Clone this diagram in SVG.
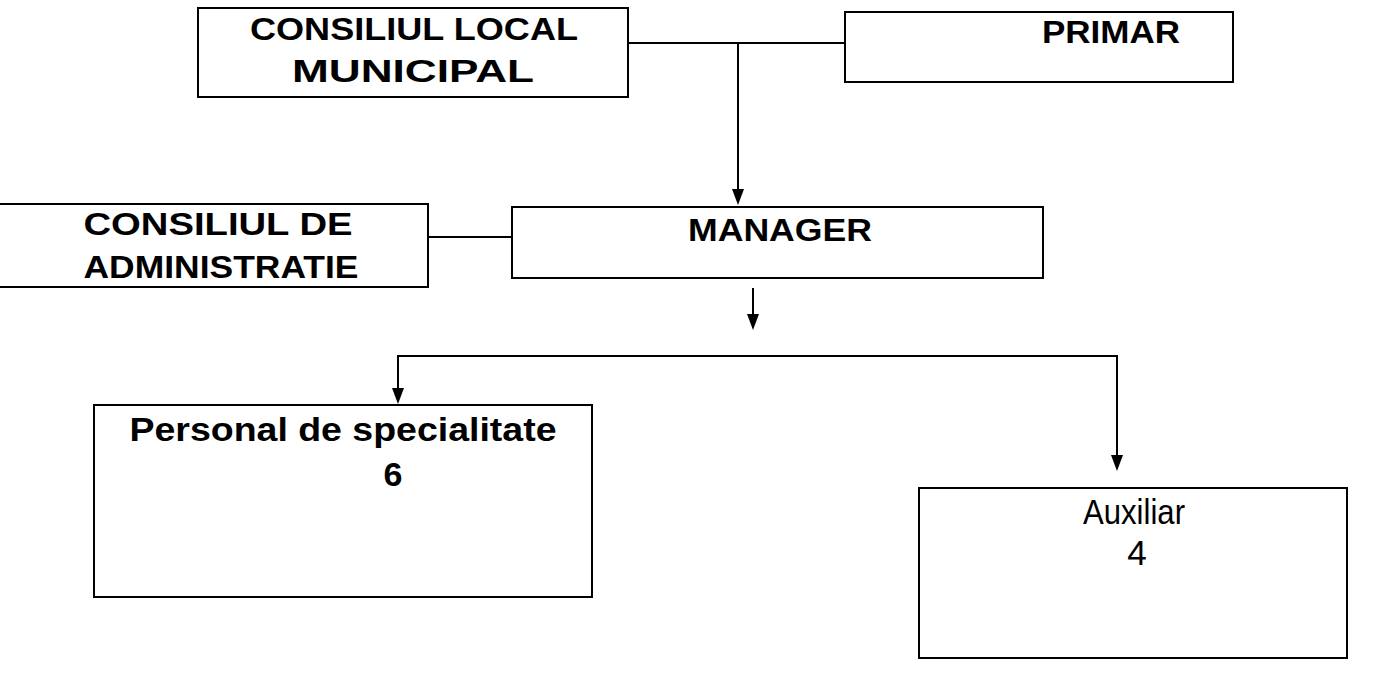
<svg xmlns="http://www.w3.org/2000/svg" width="1378" height="679" viewBox="0 0 1378 679">
<defs>
<style>
.box{fill:#fff;stroke:#000;stroke-width:2}
.ln{fill:none;stroke:#000;stroke-width:2}
.b{font-family:"Liberation Sans",Arial,sans-serif;font-weight:bold;font-size:32px;fill:#000;text-anchor:middle}
.p{font-family:"Liberation Sans",Arial,sans-serif;font-weight:bold;font-size:34px;fill:#000;text-anchor:middle}
.r{font-family:"Liberation Sans",Arial,sans-serif;font-size:35px;fill:#000;text-anchor:middle}
</style>
<marker id="ah" viewBox="0 0 12 16" refX="6" refY="16" markerWidth="12" markerHeight="16" markerUnits="userSpaceOnUse" orient="auto">
<path d="M0,0 L12,0 L6,16 Z" fill="#000"/>
</marker>
</defs>
<rect width="1378" height="679" fill="#fff"/>
<g id="connectors">
<line class="ln" x1="628" y1="43" x2="845" y2="43"/>
<line class="ln" x1="738" y1="43" x2="738" y2="190"/>
<path d="M732,189 L744,189 L738,205 Z" fill="#000"/>
<line class="ln" x1="428" y1="237" x2="513" y2="237"/>
<line class="ln" x1="753" y1="288" x2="753" y2="316"/>
<path d="M747,314 L759,314 L753,330 Z" fill="#000"/>
<path class="ln" d="M398,390 V356 H1117 V456"/>
<path d="M392,388 L404,388 L398,404 Z" fill="#000"/>
<path d="M1111,455 L1123,455 L1117,471 Z" fill="#000"/>
</g>
<g id="consiliul-local">
<rect class="box" x="198" y="8" width="430" height="89"/>
<text class="b" x="414" y="40" textLength="328" lengthAdjust="spacingAndGlyphs">CONSILIUL LOCAL</text>
<text class="b" x="413" y="82" textLength="242" lengthAdjust="spacingAndGlyphs">MUNICIPAL</text>
</g>
<g id="primar">
<rect class="box" x="845" y="12" width="388" height="70"/>
<text class="b" x="1111" y="43" textLength="138" lengthAdjust="spacingAndGlyphs">PRIMAR</text>
</g>
<g id="consiliul-administratie">
<path class="box" d="M-2,204 H428 V287 H-2"/>
<text class="b" x="218" y="235" textLength="269" lengthAdjust="spacingAndGlyphs">CONSILIUL DE</text>
<text class="b" x="221" y="278" textLength="275" lengthAdjust="spacingAndGlyphs">ADMINISTRATIE</text>
</g>
<g id="manager">
<rect class="box" x="512" y="207" width="531" height="71"/>
<text class="b" x="780" y="241" textLength="184" lengthAdjust="spacingAndGlyphs">MANAGER</text>
</g>
<g id="personal">
<rect class="box" x="94" y="405" width="498" height="192"/>
<text class="p" x="343" y="441" textLength="427" lengthAdjust="spacingAndGlyphs">Personal de specialitate</text>
<text class="p" x="393" y="486">6</text>
</g>
<g id="auxiliar">
<rect class="box" x="919" y="488" width="428" height="170"/>
<text class="r" x="1134" y="524" textLength="102" lengthAdjust="spacingAndGlyphs">Auxiliar</text>
<text class="r" x="1137" y="565">4</text>
</g>
</svg>
